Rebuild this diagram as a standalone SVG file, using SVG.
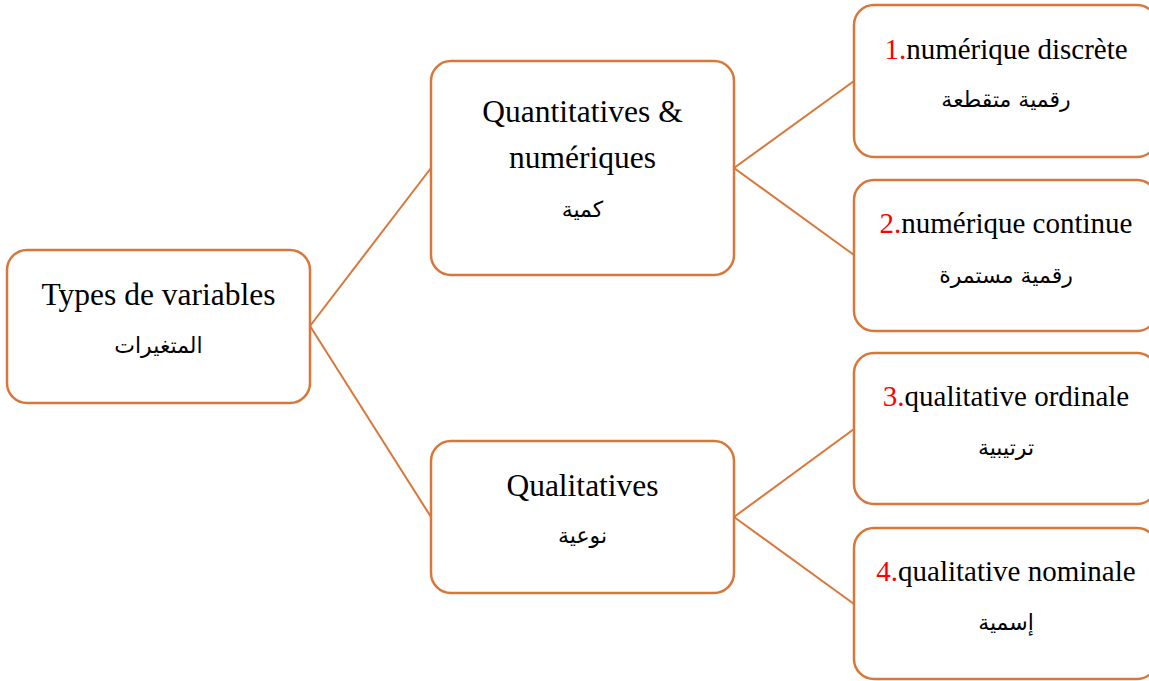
<svg xmlns="http://www.w3.org/2000/svg" width="1149" height="681" viewBox="0 0 1149 681">
<style>
.box{fill:#fff;stroke:#D9773A;stroke-width:2.5}
.lnk{stroke:#D9773A;stroke-width:2;fill:none}
.t{font-family:"Liberation Serif","Times New Roman",serif;fill:#000;text-anchor:middle}
.big{font-size:31.5px}
.sm{font-size:29px}
.ar{font-family:"DejaVu Sans","Noto Sans",sans-serif;font-size:22px;fill:#000;text-anchor:middle}
.red{fill:#FF0000}
</style>
<rect width="1149" height="681" fill="#fff"/>
<g id="connectors">
<line class="lnk" x1="310" y1="326" x2="431" y2="168"/>
<line class="lnk" x1="310" y1="326" x2="431" y2="517"/>
<line class="lnk" x1="734" y1="168" x2="854" y2="81"/>
<line class="lnk" x1="734" y1="168" x2="854" y2="255"/>
<line class="lnk" x1="734" y1="517" x2="854" y2="429"/>
<line class="lnk" x1="734" y1="517" x2="854" y2="604"/>
</g>
<g id="root">
<rect class="box" x="7" y="250" width="303" height="153" rx="20"/>
<text class="t big" x="158.5" y="305">Types de variables</text>
<text class="ar" x="158.5" y="353" direction="rtl">المتغيرات</text>
</g>
<g id="quant">
<rect class="box" x="431" y="61" width="303" height="214" rx="20"/>
<text class="t big" x="582.5" y="122">Quantitatives &amp;</text>
<text class="t big" x="582.5" y="168">numériques</text>
<text class="ar" x="582.5" y="217" direction="rtl">كمية</text>
</g>
<g id="qual">
<rect class="box" x="431" y="441" width="303" height="152" rx="20"/>
<text class="t big" x="582.5" y="496">Qualitatives</text>
<text class="ar" x="582.5" y="543" direction="rtl">نوعية</text>
</g>
<g id="n1">
<rect class="box" x="854" y="5" width="303" height="152" rx="20"/>
<text class="t sm" x="1006" y="59"><tspan class="red">1.</tspan>numérique discrète</text>
<text class="ar" x="1006" y="107" direction="rtl">رقمية متقطعة</text>
</g>
<g id="n2">
<rect class="box" x="854" y="180" width="303" height="151" rx="20"/>
<text class="t sm" x="1006" y="233"><tspan class="red">2.</tspan>numérique continue</text>
<text class="ar" x="1006" y="283" direction="rtl">رقمية مستمرة</text>
</g>
<g id="n3">
<rect class="box" x="854" y="353" width="303" height="151" rx="20"/>
<text class="t sm" x="1006" y="406"><tspan class="red">3.</tspan>qualitative ordinale</text>
<text class="ar" x="1006" y="455" direction="rtl">ترتيبية</text>
</g>
<g id="n4">
<rect class="box" x="854" y="528" width="303" height="151" rx="20"/>
<text class="t sm" x="1006" y="581"><tspan class="red">4.</tspan>qualitative nominale</text>
<text class="ar" x="1006" y="630" direction="rtl">إسمية</text>
</g>
</svg>
